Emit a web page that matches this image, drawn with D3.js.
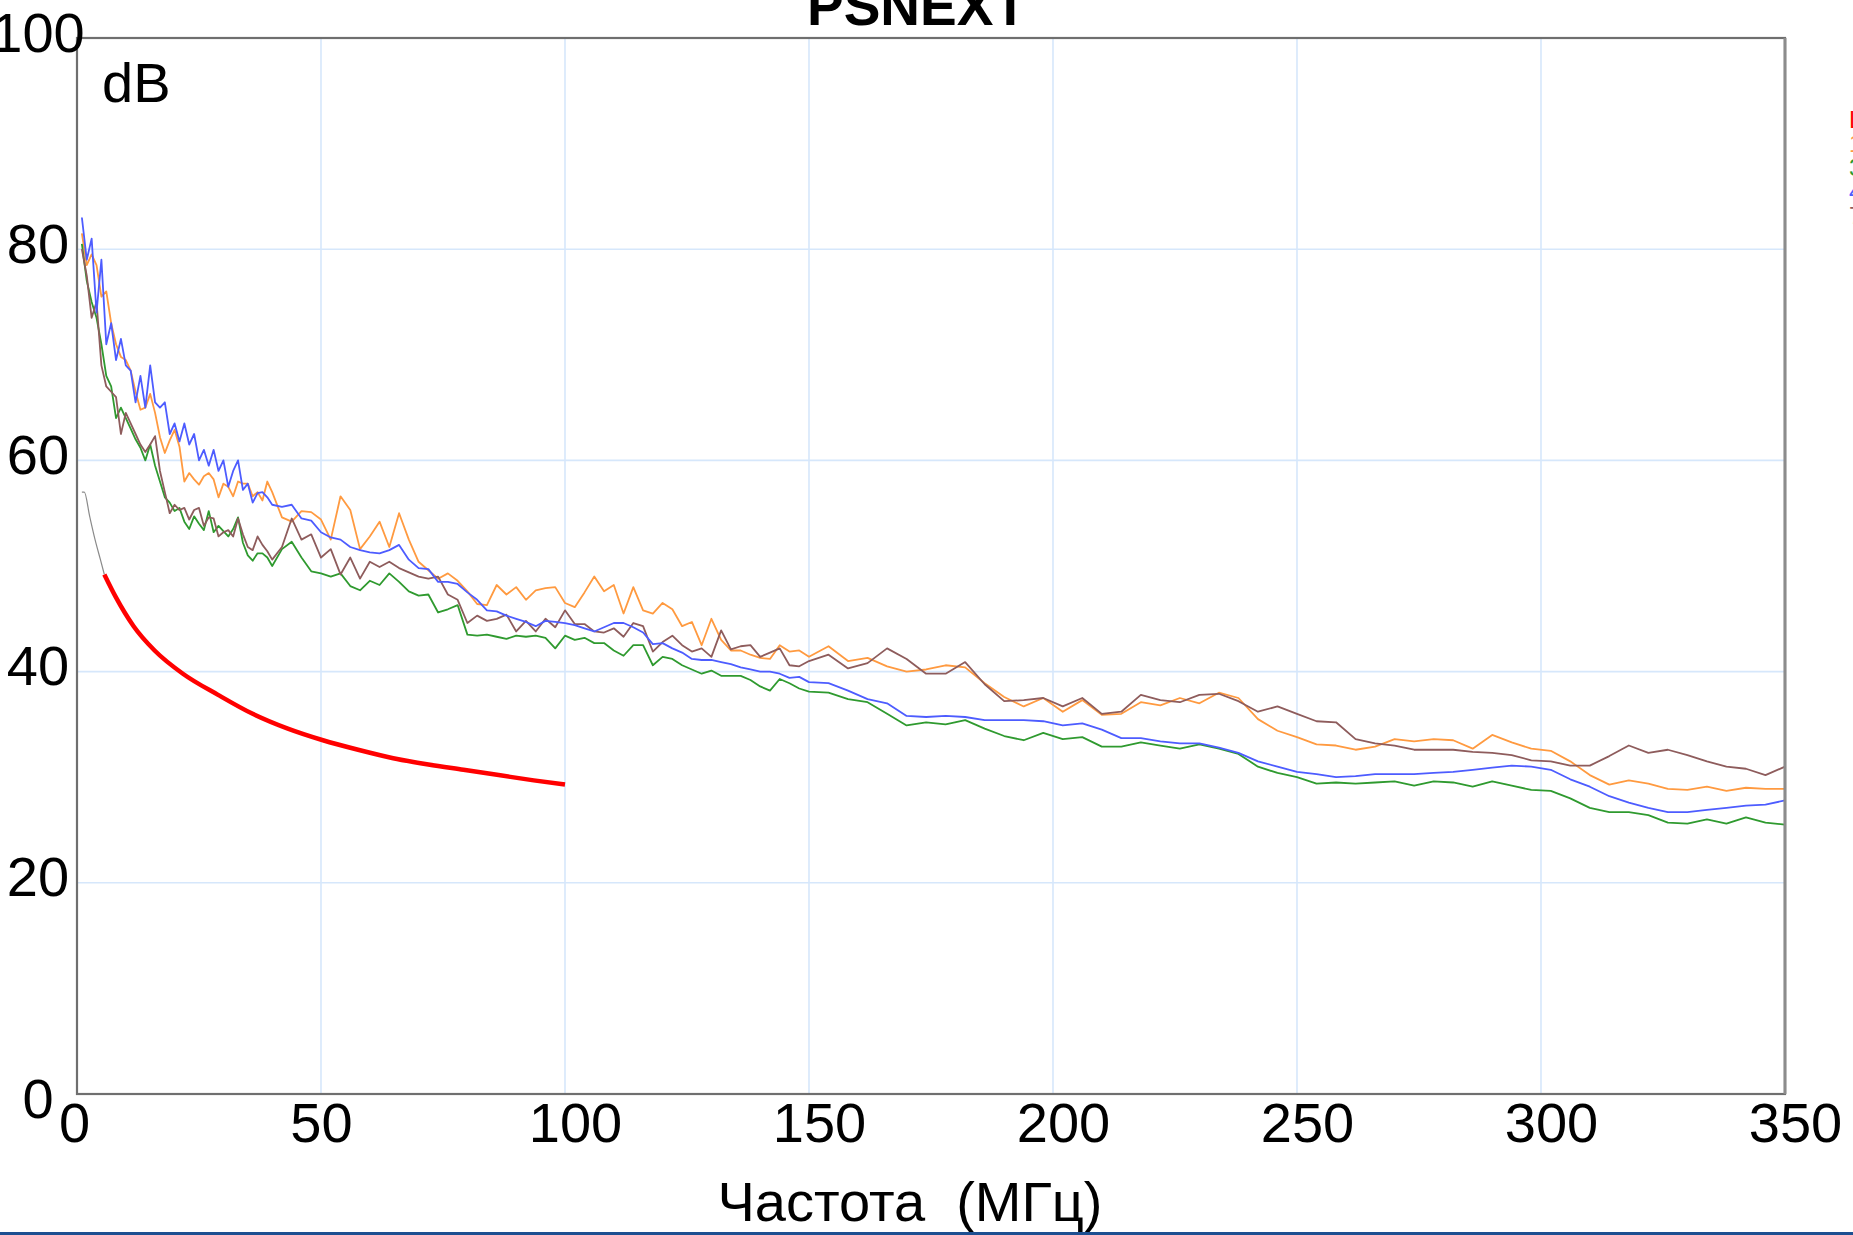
<!DOCTYPE html>
<html>
<head>
<meta charset="utf-8">
<script src="https://cdn.jsdelivr.net/npm/d3@7"></script>
<style>
  body { margin: 0; background: #fff; overflow: hidden; }
  svg { display: block; font-family: "Liberation Sans", Arial, sans-serif; }
</style>
</head>
<body>
<svg id="chart" width="1853" height="1235"></svg>
<script>
// frequency grid (MHz) shared by the four measured pairs
const freqs = [
  1,2,3,4,5,6,7,8,9,10,11,12,13,14,15,16,17,18,19,20,21,22,23,24,25,26,27,28,29,30,31,32,33,34,35,36,37,38,39,40,
  42,44,46,48,50,52,54,56,58,60,62,64,66,68,70,72,74,76,78,80,82,84,86,88,90,92,94,96,98,100,
  102,104,106,108,110,112,114,116,118,120,122,124,126,128,130,132,134,136,138,140,142,144,146,148,150,
  154,158,162,166,170,174,178,182,186,190,194,198,202,206,210,214,218,222,226,230,234,238,242,246,250,
  254,258,262,266,270,274,278,282,286,290,294,298,302,306,310,314,318,322,326,330,334,338,342,346,350
];

const pair12 = [ // orange
  81.5,78.5,79.5,78.5,75.5,76,73,71,69.8,69.5,68.5,66.5,64.8,65,66.3,64.5,62.2,60.7,61.9,62.9,
  61.3,58,58.8,58.2,57.7,58.5,58.8,58.2,56.5,57.8,57.5,56.6,58,57.8,57.8,56.6,57,56.2,58,57,
  54.6,54.2,55.2,55.1,54.4,52.5,56.6,55.3,51.6,52.8,54.2,51.8,55,52.5,50.4,49.6,48.8,49.3,48.6,47.6,
  46.4,46.3,48.2,47.3,48,46.8,47.7,47.9,48,46.5,46.1,47.5,49,47.6,48.2,45.5,48,45.8,45.5,46.5,
  45.9,44.3,44.7,42.5,45,43,42,42,41.6,41.3,41.2,42.5,41.9,42,41.4,
  42.4,41,41.3,40.5,40,40.2,40.6,40.4,38.9,37.6,36.7,37.5,36.2,37.3,35.9,36,37.1,36.8,37.5,37,
  38,37.5,35.5,34.4,33.8,33.1,33,32.6,32.9,33.6,33.4,33.6,33.5,32.7,34,33.3,32.7,32.5,31.5,30.2,
  29.3,29.7,29.4,28.9,28.8,29.1,28.7,29,28.9,28.9
];
const pair36 = [ // green
  80.5,77,75,73.5,71,68,67,64,65,64,63,62,61.2,60,61.5,59.5,58,56.5,56,55.2,
  55.5,54.2,53.5,54.7,54,53.4,55.2,53.2,53.8,53.3,52.8,53.5,54.6,52.2,51,50.5,51.2,51.2,50.8,50,
  51.6,52.3,50.8,49.5,49.3,49,49.3,48.1,47.7,48.6,48.2,49.3,48.5,47.6,47.2,47.3,45.6,45.9,46.3,43.5,
  43.4,43.5,43.3,43.1,43.4,43.3,43.4,43.2,42.2,43.4,43,43.2,42.7,42.7,42,41.5,42.5,42.5,40.6,41.4,
  41.2,40.6,40.2,39.8,40.1,39.6,39.6,39.6,39.2,38.6,38.2,39.3,38.9,38.4,38.1,
  38,37.4,37.1,36,34.9,35.2,35,35.4,34.6,33.9,33.5,34.2,33.6,33.8,32.9,32.9,33.3,33,32.7,33.1,
  32.7,32.2,31,30.4,30,29.4,29.5,29.4,29.5,29.6,29.2,29.6,29.5,29.1,29.6,29.2,28.8,28.7,28,27.1,
  26.7,26.7,26.4,25.7,25.6,26,25.6,26.2,25.7,25.5
];
const pair45 = [ // blue
  83,79,81,74,79,71,73,69.5,71.5,69,68.5,65.5,68,65,69,65.5,65,65.5,62.5,63.5,
  61.8,63.5,61.5,62.5,60,61,59.5,61,59,60,57.5,59,60,57.2,57.8,56,56.9,57,56.5,55.8,
  55.6,55.8,54.5,54.3,53.2,52.7,52.5,51.8,51.5,51.3,51.2,51.5,52,50.6,49.8,49.7,48.5,48.5,48.3,47.5,
  46.8,45.8,45.7,45.3,45,44.7,44.3,44.8,44.7,44.6,44.4,44.1,43.8,44.2,44.6,44.6,44.2,43.7,42.6,42.7,
  42.2,41.8,41.2,41.1,41.1,40.9,40.7,40.4,40.2,40,40,39.8,39.4,39.5,39,
  38.9,38.2,37.4,37,35.8,35.7,35.8,35.7,35.4,35.4,35.4,35.3,34.9,35.1,34.5,33.7,33.7,33.4,33.2,33.2,
  32.8,32.3,31.5,31,30.5,30.3,30,30.1,30.3,30.3,30.3,30.4,30.5,30.7,30.9,31.1,31,30.7,29.8,29.1,
  28.2,27.6,27.1,26.7,26.7,26.9,27.1,27.3,27.4,27.8
];
const pair78 = [ // brown
  80,77.5,73.5,75,69,67,66.5,66,62.5,64.5,63.5,62.5,61.5,60.8,61.5,62.3,59,57,55,55.8,
  55.3,55.5,54.4,55.3,55.5,53.8,54.6,54.5,52.8,53.2,53.4,52.8,54.5,53,51.8,51.5,52.8,52,51.4,50.6,
  51.8,54.5,52.5,53,50.8,51.6,49.2,50.8,48.8,50.4,49.9,50.4,49.8,49.4,49,48.8,49,47.3,46.8,44.6,
  45.3,44.8,45,45.4,43.8,44.8,43.8,45,44.2,45.8,44.5,44.5,43.8,43.7,44.1,43.3,44.6,44.3,41.9,42.8,
  43.4,42.5,41.9,42.2,41.4,43.9,42.1,42.4,42.5,41.4,41.8,42.2,40.6,40.5,41,
  41.6,40.3,40.8,42.2,41.2,39.8,39.8,40.9,38.8,37.2,37.3,37.5,36.7,37.5,36,36.2,37.8,37.3,37.1,37.8,
  37.9,37.2,36.2,36.7,36,35.3,35.2,33.6,33.2,33,32.6,32.6,32.6,32.4,32.3,32.1,31.6,31.5,31.1,31.1,
  32,33,32.3,32.6,32.1,31.5,31,30.8,30.2,31
];

// limit line: grey lead-in, then the red limit up to 100 MHz
const leadF = [1.0, 1.5, 2.6, 3.7, 4.8, 5.6];
const leadDb = [57, 57, 54.7, 52.5, 50.6, 49.2];
const limitF = [5.6, 7.9, 11.6, 15.9, 21.7, 28.9, 36, 43.2, 50.4, 57.6, 64.8, 72, 79.2, 86.4, 93.6, 100];
const limitDb = [49.2, 47.1, 44.3, 42.0, 39.8, 37.8, 36.0, 34.6, 33.5, 32.6, 31.8, 31.2, 30.7, 30.2, 29.7, 29.3];

const xTicks = [0, 50, 100, 150, 200, 250, 300, 350];
const yTicks = [0, 20, 40, 60, 80, 100];
const legendNames = ["Limit", "12", "36", "45", "78"];
const legendColors = ["#ff0000", "#ff9a40", "#2f9a2f", "#4d5cff", "#8e5c5c"];

(function (d3) {
  'use strict';

  const svg = d3.select('#chart');
  const x = d3.scaleLinear().domain([0, 350]).range([77, 1785]);
  const y = d3.scaleLinear().domain([0, 100]).range([1094, 38]);

  // grid
  svg.append('g')
    .selectAll('line').data(xTicks.slice(1, -1))
    .enter().append('line')
      .attr('x1', d => x(d)).attr('x2', d => x(d))
      .attr('y1', y(100)).attr('y2', y(0))
      .attr('stroke', '#d6e7fb').attr('stroke-width', 1.6);
  svg.append('g')
    .selectAll('line').data(yTicks.slice(1, -1))
    .enter().append('line')
      .attr('x1', x(0)).attr('x2', x(350))
      .attr('y1', d => y(d)).attr('y2', d => y(d))
      .attr('stroke', '#d6e7fb').attr('stroke-width', 1.6);

  // measured traces
  const line = d3.line()
    .x(d => x(d[0]))
    .y(d => y(d[1]));
  const traces = [
    { v: pair12, c: legendColors[1] },
    { v: pair36, c: legendColors[2] },
    { v: pair78, c: legendColors[4] },
    { v: pair45, c: legendColors[3] }
  ];
  svg.append('g')
    .selectAll('path').data(traces)
    .enter().append('path')
      .attr('d', t => line(freqs.map((f, i) => [f, t.v[i]])))
      .attr('fill', 'none')
      .attr('stroke', t => t.c)
      .attr('stroke-width', 1.8)
      .attr('stroke-linejoin', 'round');

  const smooth = d3.line()
    .x(d => x(d[0]))
    .y(d => y(d[1]))
    .curve(d3.curveMonotoneX);
  svg.append('path')
    .attr('d', smooth(leadF.map((f, i) => [f, leadDb[i]])))
    .attr('fill', 'none').attr('stroke', '#8a8a8a').attr('stroke-width', 1.2);
  svg.append('path')
    .attr('d', smooth(limitF.map((f, i) => [f, limitDb[i]])))
    .attr('fill', 'none').attr('stroke', '#ff0000').attr('stroke-width', 4.5);

  // frame
  svg.append('rect')
    .attr('x', x(0)).attr('y', y(100))
    .attr('width', x(350) - x(0)).attr('height', y(0) - y(100))
    .attr('fill', 'none').attr('stroke', '#6f6f6f').attr('stroke-width', 2.2);
  svg.append('line')
    .attr('x1', x(350)).attr('x2', x(350))
    .attr('y1', y(100)).attr('y2', y(0))
    .attr('stroke', '#8c8c8c').attr('stroke-width', 3);

  // axes
  const xAxis = svg.append('g')
    .attr('transform', `translate(0,${y(0)})`)
    .call(d3.axisBottom(x).tickValues(xTicks).tickSize(0).tickPadding(8));
  xAxis.select('.domain').remove();
  xAxis.selectAll('text')
    .attr('font-size', 56)
    .attr('font-family', '"Liberation Sans", Arial, sans-serif')
    .attr('fill', '#000')
    .attr('dx', d => ({ 1: -3, 2: 0, 3: 10 })[String(d).length]);

  const yAxis = svg.append('g')
    .call(d3.axisLeft(y).tickValues(yTicks).tickSize(0));
  yAxis.select('.domain').remove();
  yAxis.selectAll('text')
    .attr('font-size', 56)
    .attr('font-family', '"Liberation Sans", Arial, sans-serif')
    .attr('fill', '#000')
    .attr('text-anchor', 'middle')
    .attr('x', 38)
    .attr('dy', null)
    .attr('y', d => d === 0 ? 23 : 13);

  svg.append('text')
    .attr('x', 102).attr('y', 102)
    .attr('font-size', 56)
    .text('dB');

  svg.append('text')
    .attr('x', 917).attr('y', 25)
    .attr('text-anchor', 'middle')
    .attr('font-size', 55).attr('font-weight', 'bold')
    .text('PSNEXT');

  svg.append('text')
    .attr('x', 910).attr('y', 1221)
    .attr('text-anchor', 'middle')
    .attr('font-size', 56)
    .style('white-space', 'pre')
    .text('Частота  (МГц)');

  // legend, mostly outside the visible area
  svg.append('g')
    .selectAll('text').data(legendNames)
    .enter().append('text')
      .attr('x', 1849)
      .attr('y', (d, i) => 128 + i * 24)
      .attr('font-size', 24)
      .attr('fill', (d, i) => legendColors[i])
      .text(d => d);

  // blue rule along the bottom edge
  svg.append('rect')
    .attr('x', 0).attr('y', 1232)
    .attr('width', 1853).attr('height', 3)
    .attr('fill', '#1d4f91');

}(d3));
</script>
</body>
</html>
